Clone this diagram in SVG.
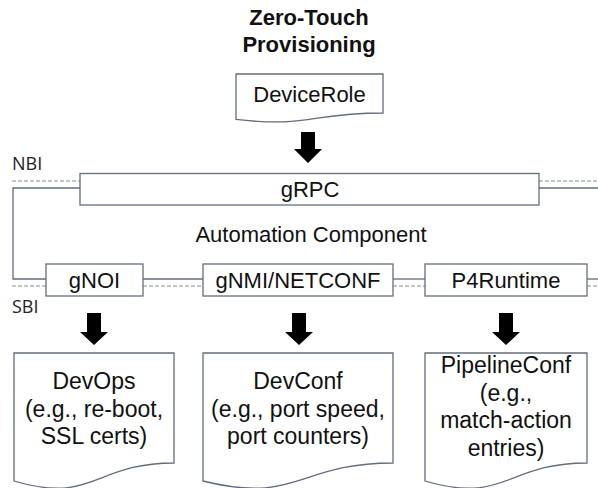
<svg xmlns="http://www.w3.org/2000/svg" width="598" height="488" viewBox="0 0 598 488">
<style>
.box{fill:#fff;stroke:#636d7a;stroke-width:1.3}
.t{font-family:"Liberation Sans",Arial,sans-serif;font-size:22px;fill:#111;text-anchor:middle}
.d{font-size:23px}
.title{font-family:"Liberation Sans",Arial,sans-serif;font-size:22px;font-weight:bold;fill:#111;text-anchor:middle}
.lbl{font-family:"Open Sans","DejaVu Sans",sans-serif;font-size:18px;fill:#222}
.dash{stroke:#8c8c8c;stroke-width:1.2;stroke-dasharray:4 2;fill:none}
.sol{stroke:#636d7a;stroke-width:1.3;fill:none}
.arr{fill:#000}
</style>
<rect width="598" height="488" fill="#fff"/>
<text class="title" x="309" y="25">Zero-Touch</text>
<text class="title" x="309" y="52">Provisioning</text>
<text class="lbl" x="12" y="170">NBI</text>
<text class="lbl" x="12" y="313">SBI</text>
<g id="connectors">
<line class="dash" x1="12" y1="181" x2="80" y2="181"/>
<line class="dash" x1="539" y1="181" x2="598" y2="181"/>
<line class="sol" x1="539" y1="188" x2="598" y2="188"/>
<polyline class="sol" points="80,188 13,188 13,279 46,279"/>
<line class="dash" x1="12" y1="286" x2="46" y2="286"/>
<line class="sol" x1="143" y1="279" x2="203" y2="279"/>
<line class="dash" x1="143" y1="286" x2="203" y2="286"/>
<line class="sol" x1="393" y1="279" x2="425" y2="279"/>
<line class="dash" x1="393" y1="286" x2="425" y2="286"/>
<line class="sol" x1="587" y1="279" x2="598" y2="279"/>
<line class="dash" x1="587" y1="286" x2="598" y2="286"/>
<path class="arr" d="M301,132 H315 V149 H322 L308,163 L294,149 H301 Z"/>
<path class="arr" d="M87,313 H101 V332 H108 L94,345 L80,332 H87 Z"/>
<path class="arr" d="M292,313 H306 V332 H313 L299,345 L285,332 H292 Z"/>
<path class="arr" d="M499,313 H513 V332 H520 L506,345 L492,332 H499 Z"/>
</g>
<g id="deviceRole">
<path class="box" d="M236,74 H383 V113 C309.5,113 309.5,127.8 236,119.4 Z"/>
<text class="t" x="309.5" y="102">DeviceRole</text>
</g>
<g id="grpc">
<rect class="box" x="80" y="173.5" width="459" height="31.5"/>
<text class="t" x="310" y="197">gRPC</text>
</g>
<g id="automation">
<text class="t" x="311" y="242">Automation Component</text>
</g>
<g id="gnoi">
<rect class="box" x="46" y="264" width="97" height="32"/>
<text class="t" x="94.5" y="288">gNOI</text>
</g>
<g id="gnmi">
<rect class="box" x="203" y="264" width="190" height="32"/>
<text class="t" x="298" y="288">gNMI/NETCONF</text>
</g>
<g id="p4runtime">
<rect class="box" x="425" y="264" width="162" height="32"/>
<text class="t" x="506" y="288">P4Runtime</text>
</g>
<g id="devops">
<path class="box" d="M14,353 H174 V463 C94,463 94,504.7 14,481 Z"/>
<text class="t d" x="94" y="389">DevOps</text>
<text class="t d" x="94" y="416.5">(e.g., re-boot,</text>
<text class="t d" x="94" y="444">SSL certs)</text>
</g>
<g id="devconf">
<path class="box" d="M203,353 H393 V463 C298,463 298,504.7 203,481 Z"/>
<text class="t d" x="298" y="389">DevConf</text>
<text class="t d" x="298" y="416.5">(e.g., port speed,</text>
<text class="t d" x="298" y="444">port counters)</text>
</g>
<g id="pipelineconf">
<path class="box" d="M425,353 H587 V463 C506,463 506,504.7 425,481 Z"/>
<text class="t d" x="506" y="373">PipelineConf</text>
<text class="t d" x="506" y="400.5">(e.g.,</text>
<text class="t d" x="506" y="428">match-action</text>
<text class="t d" x="506" y="456">entries)</text>
</g>
</svg>
